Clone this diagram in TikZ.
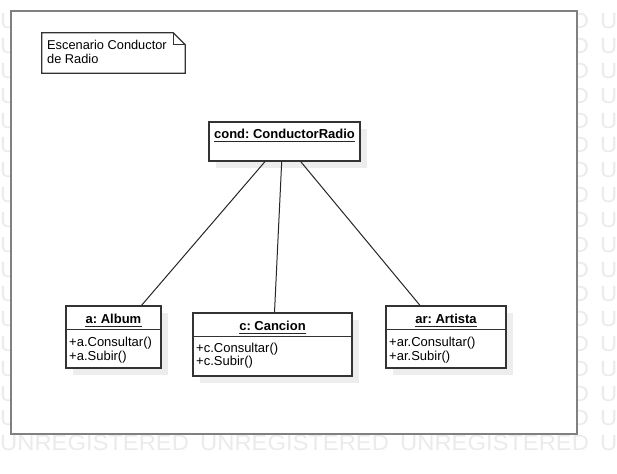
\documentclass[tikz,border=0pt]{standalone}
\usepackage{fontspec}
\setmainfont{Liberation Sans}
\usetikzlibrary{shadows,calc}
\frenchspacing
\begin{document}
\frenchspacing
\begin{tikzpicture}[x=1pt,y=-1pt,
  wm/.style={inner sep=0pt, anchor=base west, text=black!8, font=\fontsize{22}{22}\selectfont, xscale=1.08},
  framebox/.style={draw=black!50, line width=2pt, fill=white, inner sep=0pt, anchor=north west},
  umlbox/.style={draw=black!80, line width=1.2pt, fill=white, inner sep=0pt,
    general shadow={fill=black!7, shadow xshift=7pt, shadow yshift=-7pt}},
  objname/.style={inner sep=0pt, anchor=base, font=\fontsize{13}{15}\selectfont\bfseries},
  attr/.style={inner sep=0pt, anchor=base west, font=\fontsize{13}{15}\selectfont},
  notetxt/.style={inner sep=0pt, anchor=base west, font=\fontsize{12.8}{15}\selectfont},
  link/.style={draw=black!85, line width=1pt},
  uline/.style={line width=0.9pt, draw=black!85},
  sepline/.style={line width=1.2pt, draw=black!80}
]
\useasboundingbox (0,0) rectangle (617,473);
\fill[white] (0,0) rectangle (617,473);

% watermark
\foreach \k in {0,...,17}{
  \foreach \xx in {0,200,400,600}{
    \node[wm] (wm-\k-\xx) at (\xx,{29+24.8*\k}) {UNREGISTERED};
  }
}

% frame
\node[framebox, minimum width=566pt, minimum height=423pt] (frame) at (10,10) {};

% note
\node[inner sep=0pt, minimum width=143pt, minimum height=40pt] (note) at (113.5,53) {};
\draw[draw=black!80, line width=1.2pt, fill=white]
  (note.north west) -- ([xshift=-12pt]note.north east) -- ([yshift=-12pt]note.north east)
  -- (note.south east) -- (note.south west) -- cycle;
\draw[draw=black!80, line width=1.2pt]
  ([xshift=-12pt]note.north east) -- ([xshift=-12pt,yshift=-12pt]note.north east) -- ([yshift=-12pt]note.north east);
\node[notetxt] (note1) at (47,50) {Escenario Conductor};
\node[notetxt] (note2) at (47,63.5) {de Radio};

% boxes
\node[umlbox, minimum width=151pt, minimum height=39pt] (cond) at (284.5,141.5) {};
\node[umlbox, minimum width=95pt, minimum height=62pt] (album) at (113.5,337) {};
\node[umlbox, minimum width=159pt, minimum height=63pt] (cancion) at (272.5,344.5) {};
\node[umlbox, minimum width=120pt, minimum height=62pt] (artista) at (446,337) {};

% separators
\draw[sepline] ($(album.north west)+(0,24)$) -- ($(album.north east)+(0,24)$);
\draw[sepline] ($(cancion.north west)+(0,24)$) -- ($(cancion.north east)+(0,24)$);
\draw[sepline] ($(artista.north west)+(0,24)$) -- ($(artista.north east)+(0,24)$);

% names
\node[objname] (condname) at (284.5,138.5) {cond: ConductorRadio};
\node[objname] (albumname) at (113.5,323.3) {a: Album};
\node[objname] (cancionname) at (272.5,330.7) {c: Cancion};
\node[objname] (artistaname) at (446,323.3) {ar: Artista};
\foreach \n in {condname,albumname,cancionname,artistaname}{
  \draw[uline] ([yshift=-3pt]\n.base west) -- ([yshift=-3pt]\n.base east);
}

% attributes
\node[attr] (a1) at (69,346.7) {+a.Consultar()};
\node[attr] (a2) at (69,360.2) {+a.Subir()};
\node[attr] (c1) at (196,352) {+c.Consultar()};
\node[attr] (c2) at (196,365.7) {+c.Subir()};
\node[attr] (r1) at (389,346.7) {+ar.Consultar()};
\node[attr] (r2) at (389,360.2) {+ar.Subir()};

% links
\draw[link] ([xshift=-19.5pt]cond.south) -- ([xshift=28pt]album.north);
\draw[link] ([xshift=-2.8pt]cond.south) -- ([xshift=2pt]cancion.north);
\draw[link] ([xshift=16.2pt]cond.south) -- ([xshift=-26pt]artista.north);
\end{tikzpicture}
\end{document}
